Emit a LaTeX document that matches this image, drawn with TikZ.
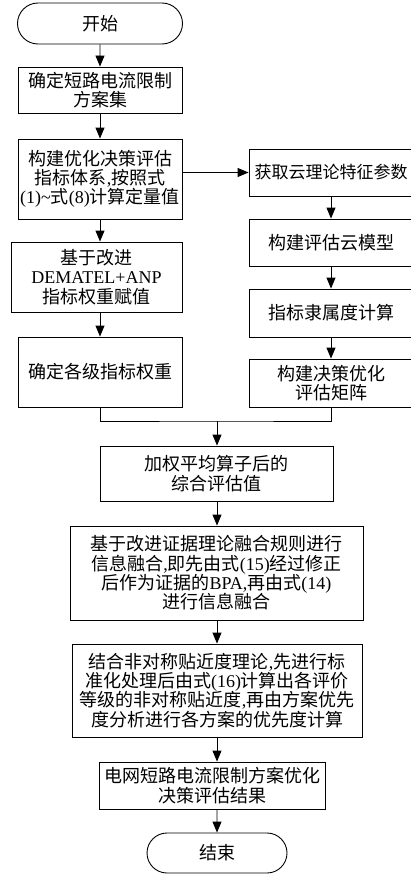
\documentclass[tikz,border=0pt]{standalone}
\usepackage{fontspec}
\setmainfont{Liberation Serif}
\newfontfamily\cjk{Noto Sans CJK SC}
\usetikzlibrary{arrows.meta,shapes.misc}
\newcommand\lat[1]{{\rmfamily #1}}
\tikzset{
  box/.style={draw, line width=0.9pt, align=center, inner sep=0pt,
    font=\cjk\fontsize{18}{19.3}\selectfont},
  term/.style={box, rounded rectangle},
  arr/.style={line width=0.9pt, -{Triangle[length=11pt,width=9pt]}},
  ln/.style={line width=0.9pt}
}
\begin{document}
\begin{tikzpicture}[x=1pt,y=-1pt]
\useasboundingbox (0,0) rectangle (410,875);
% left column
\node[term, minimum width=165pt, minimum height=41pt] (start) at (100,23.5) {开始};
\node[box, minimum width=164pt, minimum height=46pt] (b1) at (100,90) {确定短路电流限制\\方案集};
\node[box, minimum width=164pt, minimum height=80pt] (b2) at (100,179) {构建优化决策评估\\指标体系\lat{,}按照式\\\lat{(1)\textasciitilde}式\lat{(8)}计算定量值};
\node[box, minimum width=171pt, minimum height=70pt] (b3) at (96.5,277) {基于改进\\\lat{DEMATEL+ANP}\\指标权重赋值};
\node[box, minimum width=164pt, minimum height=70pt] (b4) at (100,372) {确定各级指标权重};
% right column
\node[box, minimum width=164pt, minimum height=47pt, font=\cjk\fontsize{17}{19.3}\selectfont] (r1) at (331,172.5) {获取云理论特征参数};
\node[box, minimum width=164pt, minimum height=47pt] (r2) at (331,242.5) {构建评估云模型};
\node[box, minimum width=164pt, minimum height=48pt] (r3) at (331,313) {指标隶属度计算};
\node[box, minimum width=164pt, minimum height=48pt] (r4) at (331,383) {构建决策优化\\评估矩阵};
% centre column
\node[box, minimum width=233pt, minimum height=55pt] (c1) at (216.5,473.5) {加权平均算子后的\\综合评估值};
\node[box, minimum width=293pt, minimum height=94pt] (c2) at (216.5,573) {基于改进证据理论融合规则进行\\信息融合\lat{,}即先由式\lat{(15)}经过修正\\后作为证据的\lat{BPA,}再由式\lat{(14)}\\进行信息融合};
\node[box, minimum width=290pt, minimum height=93pt] (c3) at (217,690.5) {结合非对称贴近度理论\lat{,}先进行标\\准化处理后由式\lat{(16)}计算出各评价\\等级的非对称贴近度\lat{,}再由方案优先\\度分析进行各方案的优先度计算};
\node[box, minimum width=226pt, minimum height=47pt] (c4) at (212,785.5) {电网短路电流限制方案优化\\决策评估结果};
\node[term, minimum width=140pt, minimum height=40pt] (end) at (217,853) {结束};
% connectors
\draw[arr] (start) -- (b1);
\draw[arr] (b1) -- (b2);
\draw[arr] (b2.south) -- (b2.south |- b3.north);
\draw[arr] (b3.south -| b2.south) -- (b4.north -| b2.south);
\draw[arr] (b2.east |- r1) -- (r1.west);
\draw[arr] (r1) -- (r2);
\draw[arr] (r2) -- (r3);
\draw[arr] (r3) -- (r4);
\coordinate (m) at (217,421);
\draw[ln] (b4.south) |- (m) -| (r4.south);
\draw[arr] (m) -- (m |- c1.north);
\draw[arr] (c1.south -| c3) -- (c2.north -| c3);
\draw[arr] (c2.south -| c3) -- (c3.north);
\draw[arr] (c3.south) -- (c3.south |- c4.north);
\draw[arr] (c4.south -| end) -- (end);
\end{tikzpicture}
\end{document}
